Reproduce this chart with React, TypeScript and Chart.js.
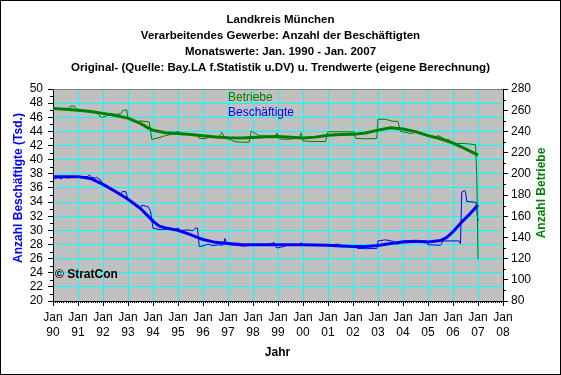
import React, { useEffect, useRef } from "react";
import { Chart, registerables } from "chart.js";

Chart.register(...registerables);

const titleLines = [
  "Landkreis München",
  "Verarbeitendes Gewerbe: Anzahl der Beschäftigten",
  "Monatswerte: Jan. 1990 - Jan. 2007",
  "Original- (Quelle: Bay.LA f.Statistik u.DV) u. Trendwerte (eigene Berechnung)",
];
const leftAxisTitle = "Anzahl Beschäftigte (Tsd.)";
const rightAxisTitle = "Anzahl Betriebe";
const xAxisTitle = "Jahr";
const labelBetriebe = "Betriebe";
const labelBesch = "Beschäftigte";
const copyright = "© StratCon";

// Betriebe trend (right axis)
const gTrendT = [1990.0, 1990.5, 1991.0, 1991.5, 1992.0, 1992.5, 1993.0, 1993.25, 1993.5, 1993.75, 1994.0, 1994.5, 1995.0, 1995.5, 1996.0, 1996.5, 1997.0, 1997.5, 1998.0, 1998.5, 1999.0, 1999.5, 2000.0, 2000.5, 2001.0, 2001.5, 2002.0, 2002.5, 2003.0, 2003.5, 2004.0, 2004.5, 2005.0, 2005.5, 2006.0, 2006.5, 2007.0];
const gTrendV = [261.5, 261.0, 260.0, 258.8, 257.0, 255.0, 252.5, 250.0, 247.5, 244.0, 241.0, 238.8, 238.0, 237.0, 235.8, 234.8, 234.0, 233.8, 234.3, 235.0, 235.2, 234.5, 233.8, 234.6, 236.4, 237.0, 237.2, 238.5, 241.2, 243.5, 242.2, 239.8, 236.0, 233.0, 229.0, 223.5, 217.7];

// Betriebe original (right axis)
const gOrigT = [1990.0, 1990.25, 1990.5, 1990.62, 1990.7, 1990.85, 1990.95, 1991.25, 1991.5, 1991.7, 1991.8, 1991.95, 1992.1, 1992.3, 1992.55, 1992.72, 1992.8, 1992.95, 1993.0, 1993.2, 1993.4, 1993.45, 1993.85, 1993.95, 1994.2, 1994.5, 1994.8, 1995.0, 1995.1, 1995.5, 1995.78, 1995.85, 1996.05, 1996.3, 1996.65, 1996.75, 1996.85, 1996.95, 1997.25, 1997.5, 1997.85, 1997.93, 1998.25, 1998.6, 1998.9, 1998.95, 1999.05, 1999.3, 1999.6, 1999.85, 1999.92, 2000.0, 2000.4, 2000.9, 2001.0, 2001.5, 2002.05, 2002.1, 2002.5, 2002.95, 2003.0, 2003.3, 2003.6, 2003.8, 2003.9, 2004.1, 2004.3, 2004.5, 2004.8, 2005.0, 2005.3, 2005.4, 2005.7, 2005.85, 2006.0, 2006.1, 2006.5, 2006.9, 2006.95, 2007.0];
const gOrigV = [261.5, 261.0, 261.3, 261.0, 263.8, 264.0, 260.5, 259.8, 259.3, 258.8, 256.0, 253.0, 254.5, 256.5, 256.0, 256.8, 260.0, 260.2, 252.0, 250.5, 248.8, 250.0, 248.8, 232.5, 233.8, 236.0, 237.8, 240.2, 237.5, 237.2, 237.0, 233.5, 233.2, 234.6, 235.0, 239.0, 235.0, 233.8, 230.5, 229.8, 229.8, 240.4, 236.0, 235.2, 235.5, 238.5, 233.0, 232.5, 233.0, 234.0, 238.8, 231.0, 230.5, 230.5, 239.6, 239.7, 239.5, 233.5, 233.0, 233.3, 251.4, 251.4, 249.5, 249.5, 240.0, 239.0, 238.0, 239.0, 237.0, 235.5, 234.5, 236.0, 232.5, 232.0, 229.5, 228.8, 228.5, 227.5, 199.0, 119.0];

// Beschäftigte trend (left axis, Tsd.)
const bTrendT = [1990.0, 1990.5, 1991.0, 1991.5, 1992.0, 1992.5, 1993.0, 1993.5, 1994.0, 1994.25, 1994.5, 1995.0, 1995.5, 1996.0, 1996.5, 1997.0, 1997.5, 1998.0, 1999.0, 2000.0, 2001.0, 2001.5, 2002.0, 2002.5, 2003.0, 2003.5, 2004.0, 2004.5, 2005.0, 2005.5, 2005.75, 2006.0, 2006.33, 2006.67, 2007.0];
const bTrendV = [37.6, 37.6, 37.6, 37.35, 36.5, 35.5, 34.4, 33.1, 31.3, 30.6, 30.35, 30.0, 29.4, 28.7, 28.3, 28.15, 28.0, 27.95, 27.95, 27.95, 27.9, 27.8, 27.7, 27.7, 27.85, 28.15, 28.35, 28.45, 28.35, 28.55, 29.0, 29.8, 31.1, 32.3, 33.6];

// Beschäftigte original (left axis, Tsd.)
const bOrigT = [1990.0, 1990.1, 1990.2, 1990.3, 1990.45, 1990.6, 1990.75, 1991.0, 1991.2, 1991.4, 1991.45, 1991.55, 1991.7, 1991.75, 1991.8, 1991.9, 1992.0, 1992.3, 1992.55, 1992.72, 1992.78, 1992.92, 1993.0, 1993.3, 1993.5, 1993.55, 1993.8, 1993.9, 1994.0, 1994.3, 1994.6, 1994.85, 1995.0, 1995.1, 1995.4, 1995.6, 1995.7, 1995.78, 1995.85, 1996.0, 1996.2, 1996.4, 1996.6, 1996.8, 1996.88, 1996.95, 1997.3, 1997.6, 1998.0, 1998.5, 1998.85, 1998.95, 1999.1, 1999.4, 1999.85, 1999.92, 2000.0, 2000.5, 2001.0, 2001.4, 2001.6, 2002.0, 2002.2, 2002.5, 2002.8, 2002.95, 2003.0, 2003.3, 2003.6, 2003.8, 2003.9, 2004.3, 2004.6, 2004.95, 2005.0, 2005.5, 2005.6, 2006.25, 2006.3, 2006.35, 2006.45, 2006.5, 2006.55, 2006.92, 2007.0];
const bOrigV = [37.45, 37.3, 37.5, 37.3, 37.5, 37.4, 37.6, 37.6, 37.55, 37.6, 37.85, 37.5, 37.4, 37.5, 37.35, 37.15, 36.4, 35.9, 35.4, 35.1, 35.5, 35.45, 34.3, 33.6, 33.1, 33.55, 33.35, 32.7, 30.3, 30.1, 30.2, 30.0, 30.35, 30.0, 30.05, 29.95, 30.35, 30.3, 27.7, 27.8, 28.05, 27.85, 27.95, 27.9, 28.85, 28.0, 27.9, 27.75, 27.9, 27.95, 28.25, 27.5, 27.6, 27.9, 27.9, 28.25, 27.85, 27.95, 27.9, 28.05, 27.8, 27.7, 27.45, 27.4, 27.45, 27.4, 28.5, 28.65, 28.45, 28.0, 28.45, 28.55, 28.45, 28.5, 27.95, 27.9, 28.5, 28.5, 28.1, 35.4, 35.6, 35.5, 34.1, 33.95, 31.3];

const pts = (t: number[], v: number[]) => t.map((x, i) => ({ x, y: v[i] }));

const FONT = "'Liberation Sans', Arial, sans-serif";
const GREEN = "#008000";
const BLUE = "#0000FF";
const CYAN = "#00FFFF";

export default function App() {
  const ref = useRef<HTMLCanvasElement | null>(null);
  useEffect(() => {
    document.body.style.margin = "0";
    const canvas = ref.current!;
    const deco = {
      id: "deco",
      beforeDraw(chart: any) {
        const { ctx, chartArea: a } = chart;
        ctx.save();
        ctx.fillStyle = "#ffffff";
        ctx.fillRect(0, 0, chart.width, chart.height);
        ctx.fillStyle = "#C0C0C0";
        ctx.fillRect(a.left, a.top, a.right - a.left, a.bottom - a.top);
        ctx.restore();
      },
      afterDraw(chart: any) {
        const { ctx, chartArea: a, scales } = chart;
        ctx.save();
        // top border of plot area
        ctx.strokeStyle = "#808080";
        ctx.lineWidth = 1;
        ctx.beginPath();
        ctx.moveTo(a.left, a.top + 0.5);
        ctx.lineTo(a.right, a.top + 0.5);
        ctx.stroke();
        // minor ticks
        ctx.strokeStyle = "#000000";
        ctx.beginPath();
        for (let v = 21; v < 50; v += 2) {
          const y = Math.round(scales.y.getPixelForValue(v)) + 0.5;
          ctx.moveTo(a.left - 3, y);
          ctx.lineTo(a.left, y);
        }
        for (let v = 90; v < 280; v += 20) {
          const y = Math.round(scales.y2.getPixelForValue(v)) + 0.5;
          ctx.moveTo(a.right, y);
          ctx.lineTo(a.right + 3, y);
        }
        for (let yr = 1990; yr < 2008; yr++) {
          for (let m = 1; m < 12; m++) {
            const x = Math.round(scales.x.getPixelForValue(yr + m / 12)) + 0.5;
            ctx.moveTo(x, a.bottom);
            ctx.lineTo(x, a.bottom + 2);
          }
        }
        ctx.stroke();
        // titles
        ctx.fillStyle = "#000000";
        ctx.textAlign = "center";
        ctx.textBaseline = "middle";
        ctx.font = `bold 11.5px ${FONT}`;
        titleLines.forEach((t, i) => ctx.fillText(t, 280.5, 19.5 + i * 16));
        ctx.font = `bold 12px ${FONT}`;
        ctx.fillText(xAxisTitle, 277.5, 353);
        // axis titles
        ctx.save();
        ctx.translate(19, 188);
        ctx.rotate(-Math.PI / 2);
        ctx.fillStyle = BLUE;
        ctx.fillText(leftAxisTitle, 0, 0);
        ctx.restore();
        ctx.save();
        ctx.translate(542, 193);
        ctx.rotate(-Math.PI / 2);
        ctx.fillStyle = GREEN;
        ctx.fillText(rightAxisTitle, 0, 0);
        ctx.restore();
        // in-plot labels
        ctx.textAlign = "left";
        ctx.font = `12px ${FONT}`;
        ctx.fillStyle = GREEN;
        ctx.fillText(labelBetriebe, 228, 97.5);
        ctx.fillStyle = BLUE;
        ctx.fillText(labelBesch, 228, 113);
        ctx.fillStyle = "#000000";
        ctx.font = `bold 12px ${FONT}`;
        ctx.fillText(copyright, 55, 275);
        // outer frame
        ctx.strokeStyle = "#000000";
        ctx.lineWidth = 1;
        ctx.strokeRect(0.5, 0.5, chart.width - 1, chart.height - 1);
        ctx.restore();
      },
    };
    const chart = new Chart(canvas, {
      type: "line",
      data: {
        datasets: [
          { label: "Betriebe Original", data: pts(gOrigT, gOrigV), yAxisID: "y2", borderColor: GREEN, borderWidth: 1, pointRadius: 0, order: 0 },
          { label: "Beschäftigte Original", data: pts(bOrigT, bOrigV), yAxisID: "y", borderColor: BLUE, borderWidth: 1, pointRadius: 0, order: 1 },
          { label: "Betriebe Trend", data: pts(gTrendT, gTrendV), yAxisID: "y2", borderColor: GREEN, borderWidth: 3, pointRadius: 0, order: 2 },
          { label: "Beschäftigte Trend", data: pts(bTrendT, bTrendV), yAxisID: "y", borderColor: BLUE, borderWidth: 3, pointRadius: 0, order: 3 },
        ],
      },
      options: {
        responsive: false,
        animation: false,
        parsing: false as any,
        layout: { padding: { top: 89, left: 0, right: 0, bottom: 0 } },
        plugins: { legend: { display: false }, tooltip: { enabled: false }, title: { display: false } },
        elements: { line: { tension: 0, borderCapStyle: "butt", borderJoinStyle: "round" } },
        scales: {
          x: {
            type: "linear",
            min: 1990,
            max: 2008,
            afterFit: (s: any) => { s.height = 74; },
            ticks: {
              stepSize: 1,
              autoSkip: false,
              maxRotation: 0,
              padding: 4,
              color: "#000000",
              font: { family: FONT, size: 12, lineHeight: 1.25 },
              callback: (v: any) => ["Jan", String(v).slice(2)],
            },
            grid: { color: CYAN, tickColor: "#000000", tickLength: 5, lineWidth: 1 },
            border: { color: "#000000", width: 1 },
          },
          y: {
            type: "linear",
            position: "left",
            min: 20,
            max: 50,
            afterFit: (s: any) => { s.width = 53; },
            ticks: { stepSize: 2, autoSkip: false, padding: 5, color: "#000000", font: { family: FONT, size: 12 } },
            grid: { color: CYAN, tickColor: "#000000", tickLength: 5, lineWidth: 1 },
            border: { color: "#000000", width: 1 },
          },
          y2: {
            type: "linear",
            position: "right",
            min: 80,
            max: 280,
            afterFit: (s: any) => { s.width = 58; },
            ticks: { stepSize: 20, autoSkip: false, padding: 3, color: "#000000", font: { family: FONT, size: 12 } },
            grid: { drawOnChartArea: false, tickColor: "#000000", tickLength: 5 },
            border: { color: "#000000", width: 1 },
          },
        },
      },
      plugins: [deco],
    });
    return () => chart.destroy();
  }, []);
  return (
    <div style={{ width: 561, height: 375 }}>
      <canvas ref={ref} width={561} height={375} style={{ display: "block" }} />
    </div>
  );
}
